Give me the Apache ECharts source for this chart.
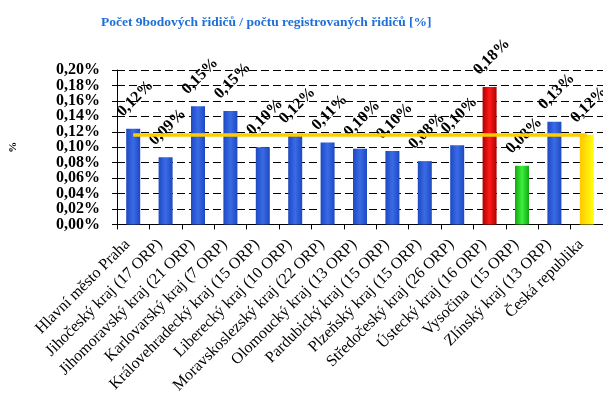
<!DOCTYPE html>
<html>
<head>
<meta charset="utf-8">
<script src="https://cdn.jsdelivr.net/npm/echarts@6/dist/echarts.min.js"></script>
<style>
  html, body { margin: 0; padding: 0; background: #fff; }
  #chart { width: 603px; height: 396px; }
</style>
</head>
<body>
<div id="chart"></div>
<script>
// Regions of the Czech Republic (number of ORP districts in brackets)
const categories = [
  'Hlavní město Praha',
  'Jihočeský kraj (17 ORP)',
  'Jihomoravský kraj (21 ORP)',
  'Karlovarský kraj (7 ORP)',
  'Královehradecký kraj (15 ORP)',
  'Liberecký kraj (10 ORP)',
  'Moravskoslezský kraj (22 ORP)',
  'Olomoucký kraj (13 ORP)',
  'Pardubický kraj (15 ORP)',
  'Plzeňský kraj (15 ORP)',
  'Středočeský kraj (26 ORP)',
  'Ústecký kraj (16 ORP)',
  'Vysočina  (15 ORP)',
  'Zlínský kraj (13 ORP)',
  'Česká republika'
];

// Share of 9-point drivers among registered drivers [%]
const shareValues = [0.124, 0.087, 0.153, 0.147, 0.100, 0.115, 0.106, 0.098, 0.095, 0.082, 0.1025, 0.178, 0.076, 0.133, 0.116];

// Country-wide reference level (Česká republika)
const nationalLevel = 0.116;

// Y axis scale and its tick labels (bottom to top)
const yTicks = { min: 0, max: 0.2, interval: 0.02 };
const yTickLabels = ['0,00%', '0,02%', '0,04%', '0,06%', '0,08%', '0,10%', '0,12%', '0,14%', '0,16%', '0,18%', '0,20%'];

const grad = (a, b) => ({
  type: 'linear', x: 0, y: 0, x2: 1, y2: 0,
  colorStops: [{ offset: 0, color: a }, { offset: 0.5, color: b }, { offset: 1, color: a }]
});
const blue = grad('#1d49c0', '#3a6be6');
const special = {
  'Ústecký kraj (16 ORP)': grad('#b00000', '#ff1a1a'),
  'Vysočina  (15 ORP)': grad('#12a812', '#3cf03c'),
  'Česká republika': { type: 'linear', x: 0, y: 0, x2: 1, y2: 0,
    colorStops: [{ offset: 0, color: '#ffc800' }, { offset: 1, color: '#ffff10' }] }
};

const fmt = v => v.toFixed(2).replace('.', ',') + '%';

const chart = echarts.init(document.getElementById('chart'), null, { renderer: 'canvas' });
chart.setOption({
  animation: false,
  backgroundColor: '#ffffff',
  title: {
    text: 'Počet 9bodových řidičů / počtu registrovaných řidičů [%]',
    left: 96, top: 11,
    textStyle: { fontFamily: 'Liberation Serif', fontWeight: 'bold', fontSize: 13.5, color: '#1f6fd8' }
  },
  grid: { left: 113, top: 70, width: 493, height: 158, containLabel: false },
  xAxis: {
    type: 'category',
    data: categories,
    axisLine: { lineStyle: { color: '#000', width: 1 } },
    axisTick: { show: true, alignWithLabel: false, length: 5, lineStyle: { color: '#000' } },
    axisLabel: {
      interval: 0, rotate: 45, margin: 12, padding: [0, 8, 0, 0],
      fontFamily: 'Liberation Serif', fontSize: 16, color: '#000'
    }
  },
  yAxis: [{
    // value scale: ticks, dashed grid lines and the axis title
    type: 'value',
    min: yTicks.min, max: yTicks.max, interval: yTicks.interval,
    name: '%', nameLocation: 'middle', nameGap: 98, nameRotate: 90,
    nameTextStyle: { fontFamily: 'Liberation Serif', fontWeight: 'bold', fontSize: 11, color: '#000' },
    axisLine: { show: true, lineStyle: { color: '#000', width: 1 } },
    axisTick: { show: true, length: 5, lineStyle: { color: '#000' } },
    axisLabel: { show: false },
    splitLine: { show: true, lineStyle: { color: '#000', type: [8, 4], width: 1 } }
  }, {
    // tick labels, evenly spaced along the same edge so none get dropped
    type: 'category',
    position: 'left',
    data: yTickLabels,
    boundaryGap: false,
    axisLine: { show: false },
    axisTick: { show: false },
    splitLine: { show: false },
    axisLabel: {
      interval: 0, margin: 17,
      fontFamily: 'Liberation Serif', fontWeight: 'bold', fontSize: 16, color: '#000'
    }
  }],
  series: [{
    type: 'bar',
    yAxisIndex: 0,
    barWidth: 14,
    data: shareValues.map((v, i) => ({
      value: v,
      itemStyle: { color: special[categories[i]] || blue }
    })),
    label: {
      show: true, position: 'top', distance: 28, offset: [3, 0], rotate: 45,
      align: 'center', verticalAlign: 'middle',
      formatter: p => fmt(p.value),
      fontFamily: 'Liberation Serif', fontWeight: 'bold', fontSize: 16, color: '#000'
    },
    markLine: {
      silent: true, symbol: 'none', z: 3,
      label: { show: false },
      lineStyle: { color: '#ffcc00', width: 3.5, type: 'solid' },
      data: [[
        { coord: [categories[0], nationalLevel] },
        { coord: [categories[categories.length - 1], nationalLevel] }
      ]]
    }
  }]
});
</script>
</body>
</html>
